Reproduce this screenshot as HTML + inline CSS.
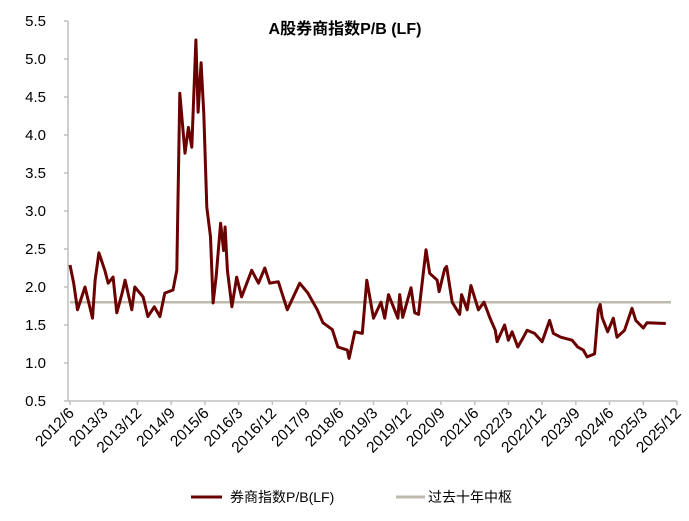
<!DOCTYPE html>
<html><head><meta charset="utf-8"><style>
body{margin:0;background:#fff;}
svg{display:block;font-family:"Liberation Sans","Noto Sans CJK SC",sans-serif;}
</style></head><body>
<svg id="chart" width="689" height="521" viewBox="0 0 689 521">
<text x="345" y="34" text-anchor="middle" font-size="16" font-weight="bold" fill="#000">A股券商指数P/B (LF)</text>
<g id="yaxis"></g>
<g id="xaxis"></g>
<g id="series"></g>
<g>
<line x1="191" y1="497" x2="222" y2="497" stroke="#6b0000" stroke-width="3"/>
<text x="230" y="502" font-size="14" fill="#000">券商指数P/B(LF)</text>
<line x1="396" y1="497" x2="425" y2="497" stroke="#bdbcac" stroke-width="3"/>
<text x="428" y="502" font-size="14" fill="#000">过去十年中枢</text>
</g>
</svg>
<script>
const yTicks=[0.5,1.0,1.5,2.0,2.5,3.0,3.5,4.0,4.5,5.0,5.5];
const xLabels=["2012/6","2013/3","2013/12","2014/9","2015/6","2016/3","2016/12","2017/9","2018/6","2019/3","2019/12","2020/9","2021/6","2022/3","2022/12","2023/9","2024/6","2025/3","2025/12"];
const months=[0,1,2,4,6,6.7,7.7,9.3,10.2,11.5,12.5,13.9,14.7,16.5,17.3,19.5,20.8,22.5,24,25.3,27.5,28.5,29.3,30.7,31.6,32.5,33.6,34.2,35,35.7,36.5,37.5,38.2,39,40.2,41,41.4,42,43.2,44.5,45.8,48.5,50.3,52,53.3,55.6,58,61.3,63.5,66,67.5,70,71.5,74,74.5,76,78,79.2,81,83,84,85,87.5,88,88.8,91,92,93,95,96,98,98.5,100,100.5,102,103,104,104.5,106,107,109,110.5,112,113.5,114,116,117,118,119.5,121,122,124,126,128,129,131,134,135.5,137,138,140,141,141.5,142,143.5,145,146,148,150,151,153,154,159];
const values=[2.29,2.05,1.70,2.0,1.59,2.09,2.45,2.22,2.05,2.13,1.66,1.92,2.09,1.70,2.0,1.87,1.61,1.74,1.61,1.92,1.96,2.22,4.55,3.76,4.1,3.84,5.25,4.3,4.95,4.28,3.05,2.66,1.79,2.13,2.84,2.48,2.79,2.22,1.74,2.13,1.87,2.22,2.05,2.25,2.05,2.07,1.70,2.05,1.92,1.70,1.53,1.44,1.21,1.17,1.06,1.41,1.39,2.09,1.59,1.80,1.59,1.9,1.59,1.9,1.6,1.99,1.66,1.64,2.49,2.18,2.09,1.94,2.24,2.27,1.80,1.72,1.64,1.9,1.7,2.02,1.7,1.8,1.6,1.43,1.28,1.5,1.3,1.41,1.21,1.34,1.43,1.39,1.28,1.56,1.39,1.34,1.30,1.21,1.17,1.08,1.12,1.7,1.77,1.6,1.41,1.59,1.34,1.43,1.72,1.56,1.46,1.53,1.52];
const centerValue=[1.8];
const NS="http://www.w3.org/2000/svg";
const X0=70,X1=677,Y0=401,PXU=76,TOTAL=162;
function xs(m){return X0+m*(X1-X0)/TOTAL;}
function ys(v){return Y0-(v-0.5)*PXU;}
function mk(t,a,p){const e=document.createElementNS(NS,t);for(const k in a)e.setAttribute(k,a[k]);p.appendChild(e);return e;}
const ya=document.getElementById('yaxis'),xa=document.getElementById('xaxis'),se=document.getElementById('series');
mk('line',{x1:X0-2,y1:ys(5.5),x2:X0-2,y2:Y0,stroke:'#bfbfbf','stroke-width':1.5},ya);
yTicks.forEach(v=>{
 const t=mk('line',{x1:X0-6,y1:ys(v),x2:X0-2,y2:ys(v),stroke:'#bfbfbf','stroke-width':1.5},ya);
 
 
 const l=mk('text',{x:46,y:ys(v)+5,'text-anchor':'end','font-size':15,fill:'#000'},ya);
 l.textContent=v.toFixed(1);
 
 
});
mk('line',{x1:X0-2,y1:Y0,x2:X1,y2:Y0,stroke:'#bfbfbf','stroke-width':1.5},xa);
xLabels.forEach((s,i)=>{
 const x=xs(i*9);
 const t=mk('line',{x1:x,y1:Y0,x2:x,y2:Y0+4,stroke:'#bfbfbf','stroke-width':1.5},xa);
 
 
 const l=mk('text',{x:x+5,y:Y0+13,'text-anchor':'end','font-size':15.5,fill:'#000',transform:`rotate(-45 ${x+5} ${Y0+13})`},xa);
 l.textContent=s;
 
 
});
const cl=mk('line',{x1:X0,y1:ys(centerValue[0]),x2:X1-6,y2:ys(centerValue[0]),stroke:'#bdbcac','stroke-width':2.5},se);


const pts=months.map((m,i)=>xs(m).toFixed(1)+','+ys(values[i]).toFixed(1)).join(' ');
const pl=mk('polyline',{points:pts,fill:'none',stroke:'#6b0000','stroke-width':3,'stroke-linejoin':'round'},se);


</script>
</body></html>
